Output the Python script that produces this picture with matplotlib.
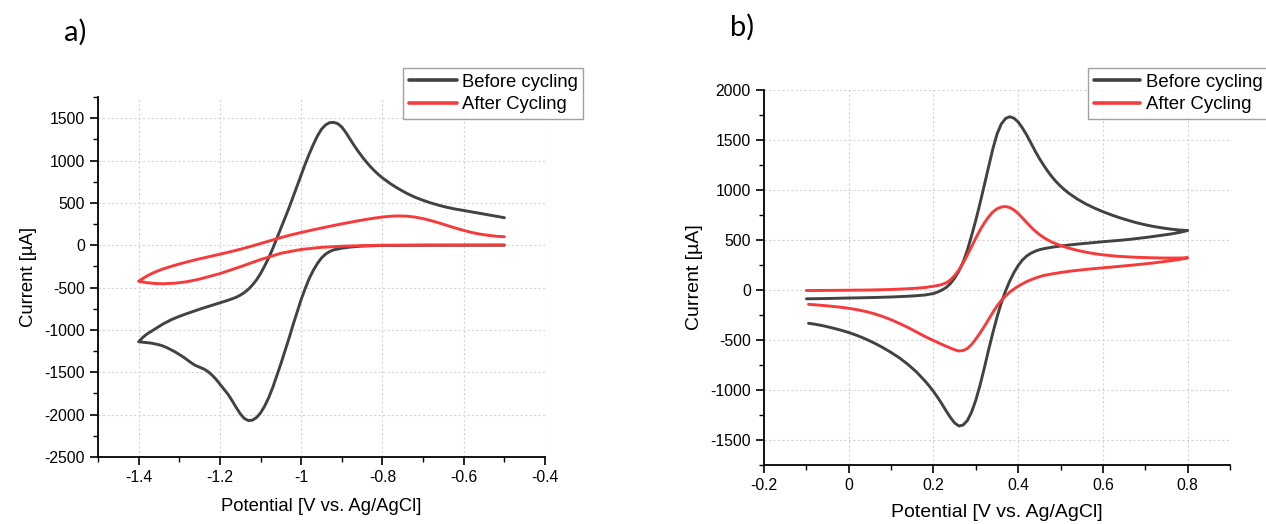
import matplotlib
matplotlib.use("Agg")
import matplotlib.pyplot as plt
from matplotlib.ticker import MultipleLocator

plt.rcParams['font.family'] = ['Liberation Sans', 'DejaVu Sans']
plt.rcParams['axes.unicode_minus'] = False

# ---------------- Panel a: potential (V) / current (uA) ----------------
# cathodic sweep (-0.5 -> -1.4) followed by the anodic return (-1.4 -> -0.5)
a_before_v = [-0.50, -0.60, -0.70, -0.80, -0.85, -0.88, -0.90, -0.91, -0.92, -0.93,
              -0.94, -0.95, -0.96, -0.97, -0.98, -0.99, -1.00, -1.01, -1.02, -1.03,
              -1.04, -1.05, -1.06, -1.07, -1.08, -1.09, -1.10, -1.11, -1.12, -1.13,
              -1.14, -1.15, -1.16, -1.17, -1.18, -1.19, -1.20, -1.21, -1.22, -1.23,
              -1.24, -1.25, -1.26, -1.27, -1.28, -1.29, -1.30, -1.31, -1.32, -1.33,
              -1.34, -1.35, -1.36, -1.37, -1.38, -1.39, -1.40,
              -1.39, -1.38, -1.37, -1.36, -1.35, -1.34, -1.33, -1.32, -1.31, -1.30,
              -1.28, -1.26, -1.24, -1.22, -1.20, -1.18, -1.16, -1.15, -1.14, -1.13,
              -1.12, -1.11, -1.10, -1.09, -1.08, -1.07, -1.06, -1.05, -1.04, -1.03,
              -1.02, -1.01, -1.00, -0.99, -0.98, -0.97, -0.96, -0.95, -0.94, -0.93,
              -0.92, -0.91, -0.90, -0.89, -0.88, -0.87, -0.86, -0.85, -0.84, -0.83,
              -0.82, -0.81, -0.80, -0.78, -0.76, -0.74, -0.72, -0.70, -0.68, -0.66,
              -0.64, -0.62, -0.60, -0.58, -0.56, -0.54, -0.52, -0.50]
a_before_i = [0, 0, 0, -3, -10, -22, -35, -45, -55, -75,
              -105, -150, -215, -295, -390, -510, -640, -790, -940, -1100,
              -1250, -1400, -1540, -1680, -1800, -1900, -1980, -2035, -2065, -2070,
              -2045, -1990, -1915, -1835, -1760, -1700, -1640, -1580, -1530, -1490,
              -1460, -1440, -1420, -1390, -1355, -1320, -1290, -1260, -1235, -1210,
              -1190, -1175, -1165, -1155, -1150, -1145, -1140,
              -1090, -1050, -1020, -990, -960, -930, -905, -880, -860, -840,
              -805, -772, -740, -710, -680, -650, -615, -590, -560, -520,
              -470, -410, -335, -245, -150, -40, 80, 200, 320, 440,
              570, 700, 830, 960, 1080, 1190, 1290, 1370, 1420, 1447,
              1450, 1435, 1395, 1330, 1255, 1180, 1110, 1045, 985, 930,
              880, 835, 795, 725, 665, 612, 567, 530, 498, 470,
              446, 426, 410, 393, 376, 359, 342, 325]

a_after_v = [-0.50, -0.60, -0.70, -0.80, -0.85, -0.90, -0.95, -1.00, -1.05, -1.10,
             -1.15, -1.20, -1.25, -1.28, -1.31, -1.34, -1.36, -1.38, -1.40,
             -1.39, -1.38, -1.37, -1.36, -1.35, -1.34, -1.32, -1.30, -1.28, -1.26,
             -1.24, -1.22, -1.20, -1.18, -1.16, -1.14, -1.12, -1.10, -1.08, -1.06,
             -1.04, -1.02, -1.00, -0.98, -0.96, -0.94, -0.92, -0.90, -0.88, -0.86,
             -0.84, -0.82, -0.80, -0.78, -0.76, -0.74, -0.72, -0.70, -0.68, -0.66,
             -0.64, -0.62, -0.60, -0.58, -0.56, -0.54, -0.52, -0.50]
a_after_i = [3, 2, 1, 0, -5, -12, -25, -50, -95, -170,
             -255, -335, -400, -430, -448, -455, -452, -442, -425,
             -395, -365, -340, -318, -298, -280, -250, -222, -196, -172,
             -150, -128, -106, -84, -60, -35, -8, 20, 48, 76,
             103, 128, 150, 172, 193, 213, 233, 252, 270, 288,
             305, 320, 333, 342, 346, 343, 332, 314, 290, 262,
             232, 202, 175, 150, 131, 117, 106, 100]

# ---------------- Panel b: potential (V) / current (uA) ----------------
# anodic sweep (-0.1 -> 0.8) followed by the cathodic return (0.8 -> -0.1)
b_before_v = [-0.10, -0.05, 0.00, 0.05, 0.10, 0.15, 0.18, 0.20, 0.21, 0.22,
              0.23, 0.24, 0.25, 0.26, 0.27, 0.28, 0.29, 0.30, 0.31, 0.32,
              0.33, 0.34, 0.35, 0.36, 0.37, 0.38, 0.39, 0.40, 0.41, 0.42,
              0.43, 0.44, 0.45, 0.46, 0.47, 0.48, 0.49, 0.50, 0.51, 0.52,
              0.54, 0.56, 0.58, 0.60, 0.62, 0.64, 0.66, 0.68, 0.70, 0.72,
              0.74, 0.76, 0.78, 0.80,
              0.78, 0.76, 0.74, 0.72, 0.70, 0.68, 0.66, 0.64, 0.62, 0.60,
              0.58, 0.56, 0.54, 0.52, 0.50, 0.48, 0.46, 0.45, 0.44, 0.43,
              0.42, 0.41, 0.40, 0.39, 0.38, 0.37, 0.36, 0.35, 0.34, 0.33,
              0.32, 0.31, 0.30, 0.29, 0.28, 0.27, 0.26, 0.25, 0.24, 0.23,
              0.22, 0.21, 0.20, 0.19, 0.18, 0.16, 0.14, 0.12, 0.10, 0.08,
              0.06, 0.04, 0.02, 0.00, -0.02, -0.04, -0.06, -0.08, -0.095]
b_before_i = [-88, -85, -80, -76, -70, -60, -50, -35, -20, 0,
              25, 65, 120, 190, 280, 400, 545, 700, 870, 1050,
              1230, 1410, 1560, 1660, 1715, 1733, 1718, 1680, 1620, 1550,
              1470, 1390, 1315, 1248, 1186, 1130, 1081, 1038, 1000, 966,
              908, 860, 819, 783, 751, 722, 696, 672, 652, 635,
              621, 609, 600, 595,
              575, 560, 548, 536, 525, 515, 505, 497, 490, 483,
              475, 467, 459, 450, 440, 428, 413, 403, 388, 368,
              340, 300, 245, 175, 90, -10, -130, -270, -430, -600,
              -780, -950, -1100, -1220, -1305, -1350, -1360, -1330, -1275, -1210,
              -1140, -1075, -1015, -960, -910, -820, -745, -680, -625, -575,
              -530, -490, -455, -425, -400, -378, -358, -342, -333]

b_after_v = [-0.10, -0.05, 0.00, 0.05, 0.10, 0.15, 0.18, 0.20, 0.21, 0.22,
             0.23, 0.24, 0.25, 0.26, 0.27, 0.28, 0.29, 0.30, 0.31, 0.32,
             0.33, 0.34, 0.35, 0.36, 0.37, 0.38, 0.39, 0.40, 0.41, 0.42,
             0.43, 0.44, 0.45, 0.46, 0.47, 0.48, 0.50, 0.52, 0.54, 0.56,
             0.58, 0.60, 0.62, 0.64, 0.66, 0.68, 0.70, 0.72, 0.74, 0.76,
             0.78, 0.80,
             0.78, 0.76, 0.74, 0.72, 0.70, 0.68, 0.66, 0.64, 0.62, 0.60,
             0.58, 0.56, 0.54, 0.52, 0.50, 0.48, 0.46, 0.45, 0.44, 0.43,
             0.42, 0.41, 0.40, 0.39, 0.38, 0.37, 0.36, 0.35, 0.34, 0.33,
             0.32, 0.31, 0.30, 0.29, 0.28, 0.27, 0.26, 0.25, 0.24, 0.23,
             0.22, 0.21, 0.20, 0.18, 0.16, 0.14, 0.12, 0.10, 0.08, 0.06,
             0.04, 0.02, 0.00, -0.02, -0.04, -0.06, -0.08, -0.095]
b_after_i = [-5, -4, -2, 0, 5, 15, 25, 38, 45, 55,
             72, 100, 145, 200, 270, 350, 435, 520, 600, 670,
             730, 780, 812, 830, 835, 825, 800, 765, 720, 675,
             630, 590, 555, 525, 500, 478, 445, 418, 396, 378,
             363, 352, 343, 336, 331, 327, 324, 322, 320, 320,
             320, 322,
             305, 293, 282, 271, 262, 253, 245, 237, 229, 222,
             214, 206, 197, 187, 175, 161, 145, 133, 118, 102,
             84, 62, 38, 10, -22, -60, -105, -160, -225, -295,
             -365, -430, -490, -545, -585, -605, -610, -598, -580, -563,
             -545, -525, -505, -465, -420, -375, -335, -297, -265, -237,
             -215, -197, -183, -172, -163, -155, -148, -143]

series_labels = ["Before cycling", "After Cycling"]
c_before = "#424242"
c_after = "#f53b3b"

fig = plt.figure(figsize=(12.66, 5.24), dpi=100)
ax_a = fig.add_axes([0.0774, 0.1279, 0.3531, 0.6870])
ax_b = fig.add_axes([0.6035, 0.1126, 0.3681, 0.7156])


def style_axes(ax, tick_size):
    for side in ("top", "right"):
        ax.spines[side].set_visible(False)
    for side in ("left", "bottom"):
        ax.spines[side].set_linewidth(1.3)
    ax.tick_params(which="major", direction="out", length=5.5, width=1.2,
                   labelsize=tick_size, pad=4)
    ax.tick_params(which="minor", direction="out", length=3.5, width=1.0)
    ax.grid(True, which="major", color="#d4d4d4", linestyle=(0, (2, 2)),
            linewidth=0.8)
    ax.set_axisbelow(True)


def fmt(v, _pos=None):
    if abs(v) < 1e-9:
        return "0"
    return f"{v:g}"


line_kw = dict(lw=2.1, solid_joinstyle="round", solid_capstyle="round")

# Panel a
ax_a.plot(a_before_v, a_before_i, color=c_before, label=series_labels[0], **line_kw)
ax_a.plot(a_after_v, a_after_i, color=c_after, label=series_labels[1], **line_kw)
ax_a.set_xlim(-1.5, -0.4)
ax_a.set_ylim(-2500, 1750)
ax_a.xaxis.set_minor_locator(MultipleLocator(0.1))
ax_a.yaxis.set_major_locator(MultipleLocator(500))
ax_a.yaxis.set_minor_locator(MultipleLocator(250))
ax_a.set_xticks([-1.4, -1.2, -1.0, -0.8, -0.6, -0.4])
ax_a.xaxis.set_major_formatter(plt.FuncFormatter(fmt))
style_axes(ax_a, 11.3)
ax_a.set_xlabel("Potential [V vs. Ag/AgCl]", fontsize=13.3, labelpad=9)
ax_a.set_ylabel("Current [µA]", fontsize=13.3, labelpad=5)

# Panel b
ax_b.plot(b_before_v, b_before_i, color=c_before, label=series_labels[0], **line_kw)
ax_b.plot(b_after_v, b_after_i, color=c_after, label=series_labels[1], **line_kw)
ax_b.set_xlim(-0.2, 0.9)
ax_b.set_ylim(-1750, 2000)
ax_b.xaxis.set_minor_locator(MultipleLocator(0.1))
ax_b.yaxis.set_major_locator(MultipleLocator(500))
ax_b.yaxis.set_minor_locator(MultipleLocator(250))
ax_b.set_xticks([-0.2, 0.0, 0.2, 0.4, 0.6, 0.8])
ax_b.xaxis.set_major_formatter(plt.FuncFormatter(fmt))
style_axes(ax_b, 11.3)
ax_b.set_xlabel("Potential [V vs. Ag/AgCl]", fontsize=14, labelpad=8)
ax_b.set_ylabel("Current [µA]", fontsize=14, labelpad=5)

for ax, anchor, fs, hl in ((ax_a, (0.3183, 0.8702), 13.3, 2.6),
                           (ax_b, (0.8595, 0.8702), 13.4, 2.5)):
    leg = fig.legend(handles=ax.get_lines(), labels=series_labels,
                     loc="upper left", bbox_to_anchor=anchor,
                     bbox_transform=fig.transFigure, fontsize=fs,
                     frameon=True, fancybox=False, borderpad=0.3,
                     handlelength=hl, handletextpad=0.3, labelspacing=0.3,
                     borderaxespad=0.0)
    leg.get_frame().set_edgecolor("#8a8a8a")
    leg.get_frame().set_linewidth(1.0)
    for h in leg.legend_handles:
        h.set_linewidth(2.6)

fig.text(0.059, 0.939, "a)", fontsize=21, family=["Lato", "DejaVu Sans"],
         ha="center", va="center")
fig.text(0.586, 0.947, "b)", fontsize=21, family=["Lato", "DejaVu Sans"],
         ha="center", va="center")

fig.savefig("out.png", dpi=100)
